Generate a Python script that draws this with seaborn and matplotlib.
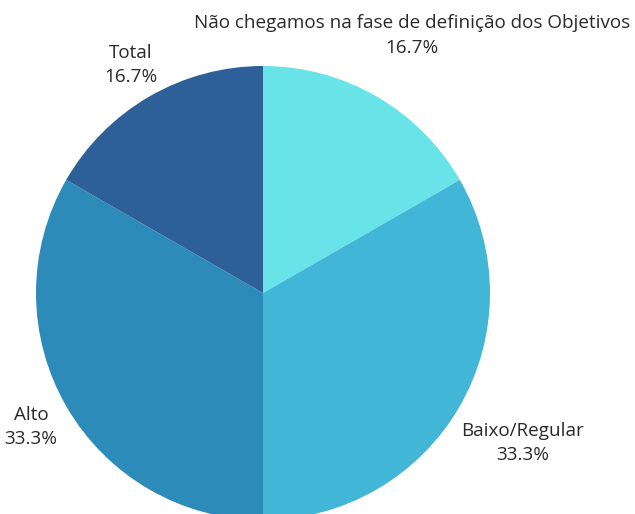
import numpy as np
import matplotlib
matplotlib.use("Agg")
import matplotlib.pyplot as plt
import seaborn as sns

# data
labels = ["Não chegamos na fase de definição dos Objetivos", "Baixo/Regular", "Alto", "Total"]
values = [16.7, 33.3, 33.3, 16.7]
colors = ["#68E3E8", "#42B6D7", "#2D8BBA", "#2D5F98"]
label_dist = [1.31, 1.32, 1.18, 1.16]

sns.set_theme(style="white")
plt.rcParams["font.family"] = ["Open Sans", "DejaVu Sans"]

fig = plt.figure(figsize=(6.35, 5.14), dpi=100)
# pie centre at (263, 293) px, radius 227 px
ax = fig.add_axes([36 / 635, (514 - 293 - 227) / 514, 454 / 635, 454 / 514])
ax.axis("off")

wedges, _ = ax.pie(values, colors=colors, startangle=90, counterclock=False,
                   radius=1, wedgeprops=dict(linewidth=0))
ax.set_xlim(-1, 1)
ax.set_ylim(-1, 1)

total = sum(values)
for w, lab, v, d in zip(wedges, labels, values, label_dist):
    ang = np.deg2rad((w.theta1 + w.theta2) / 2)
    x, y = d * np.cos(ang), d * np.sin(ang)
    ax.text(x, y, f"{lab}\n{v / total * 100:.1f}%", ha="center", va="center",
            fontsize=13.6, color="#2a2a2a", linespacing=1.45, clip_on=False)

fig.savefig("out.png", dpi=100)
